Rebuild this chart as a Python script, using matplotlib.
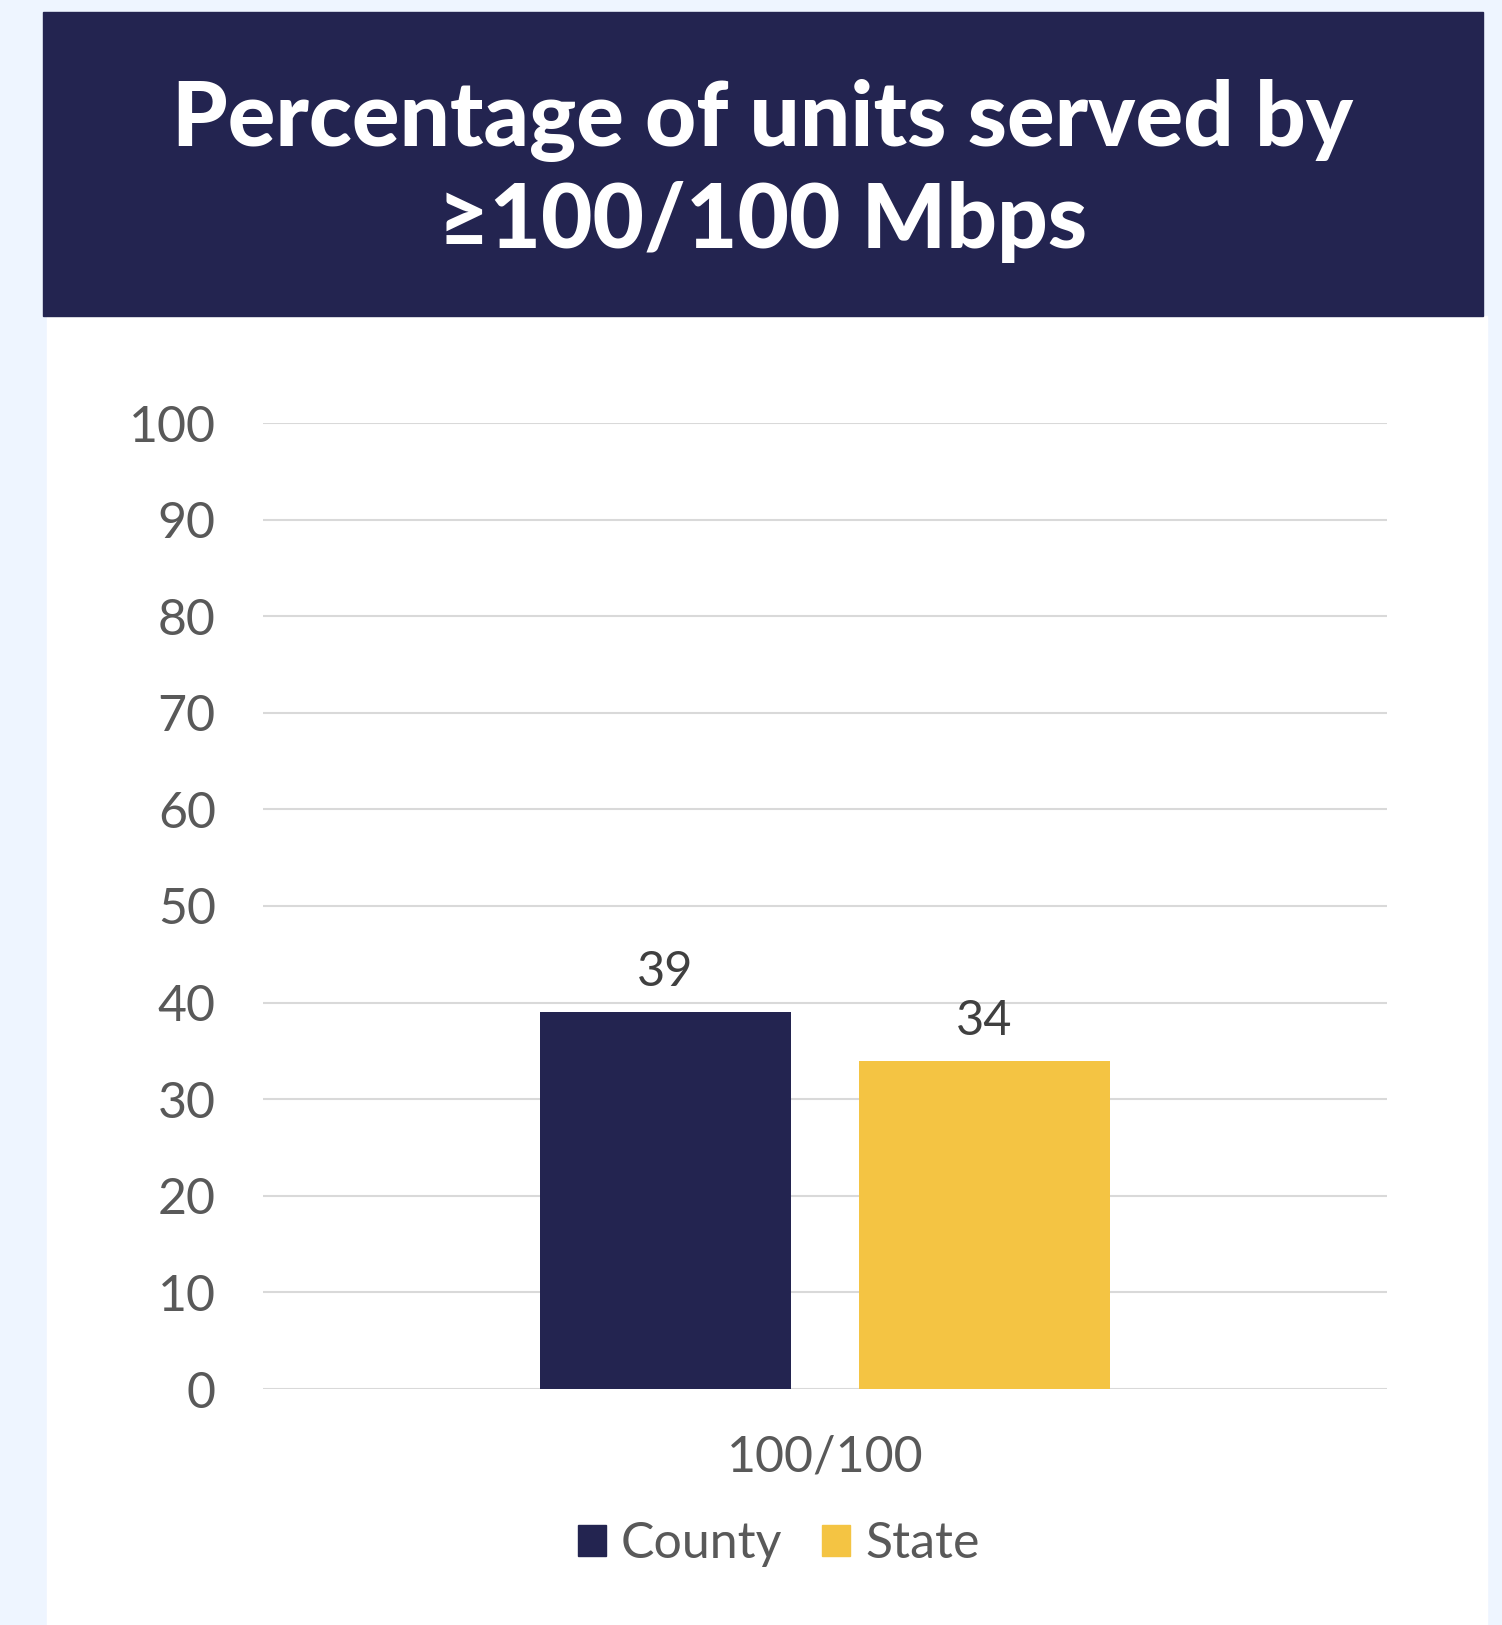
import numpy as np
import matplotlib.pyplot as plt
from matplotlib.patches import Rectangle, Patch

categories = ['100/100']
county = [39]
state = [34]
series_names = ['County', 'State']
yticks = list(range(0, 101, 10))

navy = '#232450'
gold = '#F4C443'
grey = '#595959'

plt.rcParams['font.family'] = ['Lato', 'DejaVu Sans']

W, H = 1502, 1625
fig = plt.figure(figsize=(W / 100, H / 100), dpi=100)
fig.patch.set_facecolor('#EEF5FF')

# white panel and title banner
fig.patches.append(Rectangle((47 / W, 0), 1440 / W, 1 - 316 / H,
                             transform=fig.transFigure, color='white', zorder=-2))
fig.patches.append(Rectangle((43 / W, 1 - 316 / H), 1440 / W, 304 / H,
                             transform=fig.transFigure, color=navy, zorder=-1))
fig.text(763 / W, 1 - 120 / H, 'Percentage of units served by', color='white',
         fontsize=64, fontweight='black', ha='center', va='center')
fig.text(763 / W, 1 - 222 / H, '≥100/100 Mbps', color='white',
         fontsize=64, fontweight='black', ha='center', va='center')

ax = fig.add_axes([263 / W, 236 / H, 1124 / W, 966 / H])
ax.set_zorder(2)
ax.set_facecolor('none')
x = np.arange(len(categories))
w = 0.223
off = 0.142
b1 = ax.bar(x - off, county, w, color=navy, zorder=3)
b2 = ax.bar(x + off, state, w, color=gold, zorder=3)
for bars in (b1, b2):
    ax.bar_label(bars, padding=13, fontsize=35, color='#404040')

ax.set_xlim(-0.5, 0.5)
ax.set_ylim(0, 100)
ax.set_yticks(yticks)
ax.set_xticks(x)
ax.set_xticklabels(categories)
ax.tick_params(axis='both', length=0, labelsize=36, labelcolor=grey)
ax.tick_params(axis='y', pad=34)
ax.tick_params(axis='x', pad=33)
ax.grid(axis='y', color='#D9D9D9', linewidth=1.5, zorder=0)
ax.set_axisbelow(True)
for s in ax.spines.values():
    s.set_visible(False)

handles = [Patch(color=navy, label=series_names[0]),
           Patch(color=gold, label=series_names[1])]
fig.legend(handles=handles, loc='center', bbox_to_anchor=(779 / W, 81 / H),
           ncol=2, frameon=False, fontsize=36, labelcolor=grey,
           handlelength=0.56, handleheight=0.56, handletextpad=0.3,
           columnspacing=0.8)

fig.savefig('out.png', dpi=100, facecolor=fig.get_facecolor())
